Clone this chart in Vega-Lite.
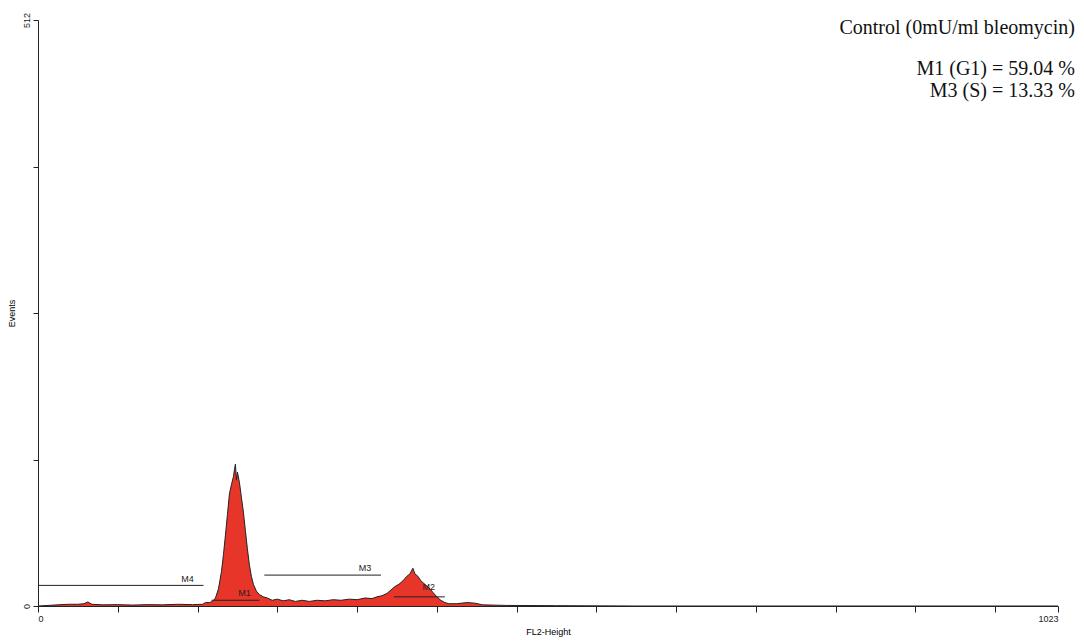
{
  "$schema": "https://vega.github.io/schema/vega-lite/v6.json",
  "width": 1020,
  "height": 586,
  "autosize": "none",
  "padding": {"left": 38, "top": 20, "right": 26, "bottom": 36},
  "background": "white",
  "config": {"view": {"stroke": null}, "font": "Liberation Sans"},
  "datasets": {
    "hist": [
      {"ch": 0, "n": 0}, {"ch": 10, "n": 0.5}, {"ch": 20, "n": 1}, {"ch": 30, "n": 1.5}, {"ch": 40, "n": 1.5},
      {"ch": 46, "n": 2}, {"ch": 50, "n": 3.5}, {"ch": 54, "n": 1.5}, {"ch": 65, "n": 1}, {"ch": 80, "n": 1.2},
      {"ch": 95, "n": 0.8}, {"ch": 110, "n": 1.2}, {"ch": 125, "n": 1}, {"ch": 140, "n": 1.5}, {"ch": 155, "n": 1.2},
      {"ch": 165, "n": 1.5}, {"ch": 168, "n": 3}, {"ch": 172, "n": 3}, {"ch": 175, "n": 4}, {"ch": 178, "n": 7},
      {"ch": 181, "n": 15}, {"ch": 184, "n": 30}, {"ch": 186, "n": 45}, {"ch": 188, "n": 62}, {"ch": 190, "n": 80},
      {"ch": 192, "n": 98}, {"ch": 194, "n": 106}, {"ch": 196, "n": 113}, {"ch": 197, "n": 119}, {"ch": 198, "n": 124},
      {"ch": 199, "n": 110}, {"ch": 200, "n": 117}, {"ch": 202, "n": 108}, {"ch": 204, "n": 95}, {"ch": 206, "n": 82},
      {"ch": 208, "n": 66}, {"ch": 210, "n": 50}, {"ch": 212, "n": 36}, {"ch": 214, "n": 26}, {"ch": 216, "n": 19},
      {"ch": 219, "n": 13}, {"ch": 222, "n": 10}, {"ch": 226, "n": 8}, {"ch": 230, "n": 7}, {"ch": 235, "n": 5},
      {"ch": 240, "n": 6}, {"ch": 246, "n": 4.5}, {"ch": 252, "n": 5.5}, {"ch": 258, "n": 4}, {"ch": 265, "n": 5},
      {"ch": 272, "n": 4}, {"ch": 280, "n": 5}, {"ch": 288, "n": 4.5}, {"ch": 296, "n": 5.5}, {"ch": 304, "n": 5},
      {"ch": 312, "n": 6}, {"ch": 320, "n": 5.5}, {"ch": 328, "n": 7}, {"ch": 335, "n": 6.5}, {"ch": 340, "n": 8},
      {"ch": 345, "n": 9}, {"ch": 350, "n": 11}, {"ch": 354, "n": 14}, {"ch": 358, "n": 17}, {"ch": 362, "n": 19},
      {"ch": 366, "n": 22}, {"ch": 370, "n": 26}, {"ch": 373, "n": 28}, {"ch": 376, "n": 33}, {"ch": 378, "n": 28},
      {"ch": 381, "n": 26}, {"ch": 384, "n": 22}, {"ch": 388, "n": 19}, {"ch": 392, "n": 16}, {"ch": 396, "n": 12},
      {"ch": 400, "n": 8}, {"ch": 404, "n": 5}, {"ch": 408, "n": 3}, {"ch": 412, "n": 2}, {"ch": 420, "n": 2},
      {"ch": 430, "n": 3}, {"ch": 438, "n": 2.5}, {"ch": 446, "n": 1}, {"ch": 470, "n": 0.5}, {"ch": 520, "n": 0.3},
      {"ch": 600, "n": 0}, {"ch": 1023, "n": 0}
    ],
    "markers": [
      {"m": "M4", "x1": 0, "x2": 166, "y": 18, "lx": 150, "ly": 24},
      {"m": "M3", "x1": 227, "x2": 344, "y": 27, "lx": 328, "ly": 33},
      {"m": "M1", "x1": 174, "x2": 222, "y": 5, "lx": 207, "ly": 11},
      {"m": "M2", "x1": 357, "x2": 408, "y": 8, "lx": 392, "ly": 17}
    ],
    "notes": [
      {"t": "Control (0mU/ml bleomycin)", "y": 505},
      {"t": "M1 (G1) = 59.04 %", "y": 469},
      {"t": "M3 (S) = 13.33 %", "y": 450}
    ]
  },
  "layer": [
    {
      "data": {"name": "hist"},
      "mark": {"type": "area", "color": "#e8352a", "opacity": 1, "line": {"color": "#222", "strokeWidth": 1}},
      "encoding": {
        "x": {
          "field": "ch", "type": "quantitative", "scale": {"domain": [0, 1023], "nice": false, "zero": false},
          "axis": {
            "title": "FL2-Height", "titleFontSize": 9, "titleFontWeight": "normal", "titlePadding": 4, "format": "d",
            "values": [0, 40, 80, 120, 160, 200, 240, 280, 320, 360, 400, 440, 480, 520, 560, 600, 640, 680, 720, 760, 800, 840, 880, 920, 960, 1000, 1023],
            "labelExpr": "datum.value == 0 || datum.value == 1023 ? datum.label : ''",
            "labelFontSize": 9, "labelColor": "#222", "tickSize": 6, "grid": false, "domainColor": "#222", "tickColor": "#222",
            "labelOverlap": false
          }
        },
        "y": {
          "field": "n", "type": "quantitative", "scale": {"domain": [0, 512], "nice": false},
          "axis": {
            "title": "Events", "titleFontSize": 9, "titleFontWeight": "normal", "titlePadding": 6,
            "values": [0, 128, 256, 384, 512],
            "labelExpr": "datum.value == 0 || datum.value == 512 ? datum.label : ''",
            "labelAngle": -90, "labelAlign": "center", "labelBaseline": "bottom", "labelFontSize": 9,
            "tickSize": 5, "grid": false, "domainColor": "#222", "tickColor": "#222", "labelColor": "#222"
          }
        }
      }
    },
    {
      "data": {"name": "markers"},
      "mark": {"type": "rule", "color": "#222", "strokeWidth": 1},
      "encoding": {"x": {"field": "x1", "type": "quantitative"}, "x2": {"field": "x2"}, "y": {"field": "y", "type": "quantitative"}}
    },
    {
      "data": {"name": "markers"},
      "mark": {"type": "text", "fontSize": 9, "color": "#222"},
      "encoding": {"x": {"field": "lx", "type": "quantitative"}, "y": {"field": "ly", "type": "quantitative"}, "text": {"field": "m"}}
    },
    {
      "data": {"name": "notes"},
      "mark": {"type": "text", "font": "Liberation Serif", "fontSize": 20, "align": "right", "color": "#111", "clip": false},
      "encoding": {"x": {"datum": 1040, "type": "quantitative"}, "y": {"field": "y", "type": "quantitative"}, "text": {"field": "t"}}
    }
  ]
}
